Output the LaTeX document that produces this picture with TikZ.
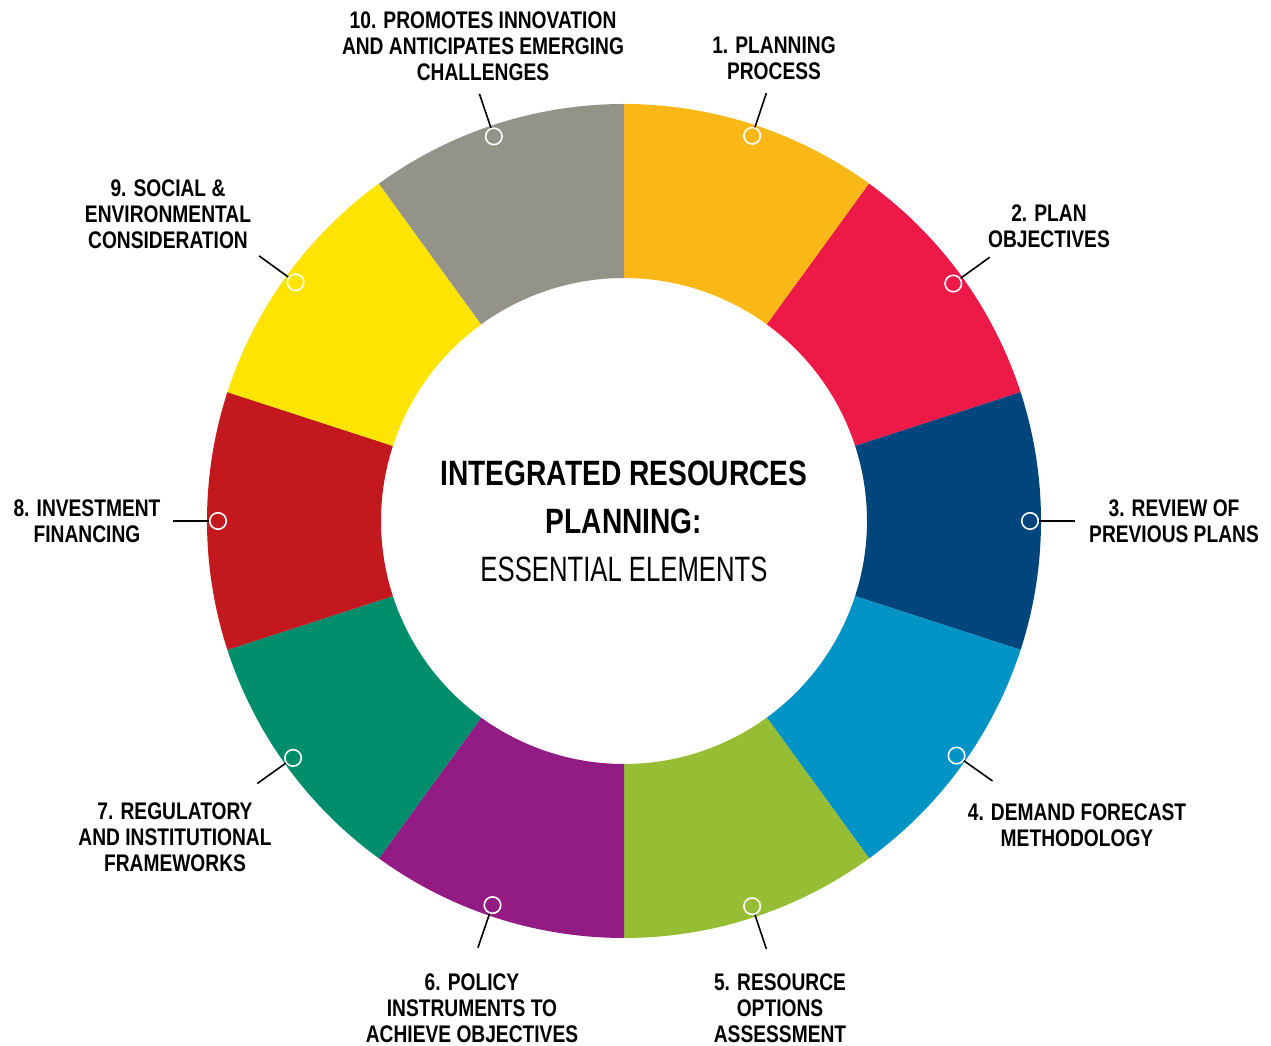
\documentclass[tikz,border=0pt]{standalone}
\usepackage{fontspec}
\newfontfamily\condfont[FakeStretch=0.8]{Liberation Sans}
\newfontfamily\narrowfont[FakeStretch=0.73]{Liberation Sans}
\definecolor{irpOrange}{HTML}{FAB817}
\definecolor{irpRed}{HTML}{ED1A47}
\definecolor{irpNavy}{HTML}{00457C}
\definecolor{irpBlue}{HTML}{0093C5}
\definecolor{irpGreen}{HTML}{97BD34}
\definecolor{irpPurple}{HTML}{931B84}
\definecolor{irpTeal}{HTML}{008D6B}
\definecolor{irpDarkRed}{HTML}{C3181E}
\definecolor{irpYellow}{HTML}{FFE400}
\definecolor{irpGray}{HTML}{94938A}
\begin{document}
\begin{tikzpicture}[x=1pt,y=1pt,
  dot/.style={circle,draw=white,line width=1.6pt,minimum size=16.5pt,inner sep=0pt},
  lead/.style={black,line width=1.6pt},
  lbl/.style={align=center,inner sep=0pt,font=\condfont\bfseries\fontsize{24}{26}\selectfont}]
\useasboundingbox (0,0) rectangle (1271,1046);
\begin{scope}[shift={(624,525)}]
\fill [irpOrange] (54:417) arc (54:90:417) -- (90:243) arc (90:54:243) -- cycle;
\fill [irpRed] (18:417) arc (18:54:417) -- (54:243) arc (54:18:243) -- cycle;
\fill [irpNavy] (-18:417) arc (-18:18:417) -- (18:243) arc (18:-18:243) -- cycle;
\fill [irpBlue] (-54:417) arc (-54:-18:417) -- (-18:243) arc (-18:-54:243) -- cycle;
\fill [irpGreen] (-90:417) arc (-90:-54:417) -- (-54:243) arc (-54:-90:243) -- cycle;
\fill [irpPurple] (-126:417) arc (-126:-90:417) -- (-90:243) arc (-90:-126:243) -- cycle;
\fill [irpTeal] (-162:417) arc (-162:-126:417) -- (-126:243) arc (-126:-162:243) -- cycle;
\fill [irpDarkRed] (162:417) arc (162:198:417) -- (198:243) arc (198:162:243) -- cycle;
\fill [irpYellow] (126:417) arc (126:162:417) -- (162:243) arc (162:126:243) -- cycle;
\fill [irpGray] (90:417) arc (90:126:417) -- (126:243) arc (126:90:243) -- cycle;
% markers and leaders
\node [dot] (m1) at (71.6:406) {};
\node [dot] (m2) at (35.8:406) {};
\node [dot] (m3) at (0:406) {};
\node [dot] (m4) at (-35.2:407) {};
\node [dot] (m5) at (-71.6:406) {};
\node [dot] (m6) at (-108.9:406) {};
\node [dot] (m7) at (-144.4:407) {};
\node [dot] (m8) at (180:406) {};
\node [dot] (m9) at (144:406) {};
\node [dot] (m10) at (108.7:406) {};
\coordinate (e1) at (71.6:451);
\coordinate (e2) at (35.8:451);
\coordinate (e3) at (0:451);
\coordinate (e4) at (-35.2:451);
\coordinate (e5) at (-71.6:451);
\coordinate (e6) at (-108.9:451);
\coordinate (e7) at (-144.4:451);
\coordinate (e8) at (180:451);
\coordinate (e9) at (144:451);
\coordinate (e10) at (108.7:451);
\end{scope}
\draw [lead] (m1) -- (e1);
\draw [lead] (m2) -- (e2);
\draw [lead] (m3) -- (e3);
\draw [lead] (m4) -- (e4);
\draw [lead] (m5) -- (e5);
\draw [lead] (m6) -- (e6);
\draw [lead] (m7) -- (e7);
\draw [lead] (m8) -- (e8);
\draw [lead] (m9) -- (e9);
\draw [lead] (m10) -- (e10);
\node [lbl] (l1) at (774,988) {1. PLANNING\\PROCESS};
\node [lbl] (l2) at (1049,820) {2. PLAN\\OBJECTIVES};
\node [lbl] (l3) at (1174,525) {3. REVIEW OF\\PREVIOUS PLANS};
\node [lbl] (l4) at (1077,221) {4. DEMAND FORECAST\\METHODOLOGY};
\node [lbl] (l5) at (780,38) {5. RESOURCE\\OPTIONS\\ASSESSMENT};
\node [lbl] (l6) at (472,38) {6. POLICY\\INSTRUMENTS TO\\ACHIEVE OBJECTIVES};
\node [lbl] (l7) at (175,209) {7. REGULATORY\\AND INSTITUTIONAL\\FRAMEWORKS};
\node [lbl] (l8) at (87,525) {8. INVESTMENT\\FINANCING};
\node [lbl] (l9) at (168,832) {9. SOCIAL \&\\ENVIRONMENTAL\\CONSIDERATION};
\node [lbl] (l10) at (483,1000) {10. PROMOTES INNOVATION\\AND ANTICIPATES EMERGING\\CHALLENGES};
\node [align=center,inner sep=0pt,font=\condfont\fontsize{35.2}{48}\selectfont] (title) at (624,525)
  {\bfseries INTEGRATED RESOURCES\\\bfseries PLANNING:\\\narrowfont\mdseries ESSENTIAL ELEMENTS};
\end{tikzpicture}
\end{document}
